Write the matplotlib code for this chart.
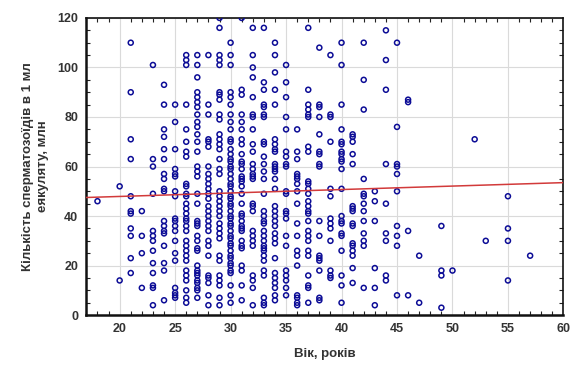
"""Scatter of sperm count vs age with a linear fit line."""

import numpy as np
import matplotlib
matplotlib.use("Agg")
import matplotlib.pyplot as plt
from matplotlib.ticker import MultipleLocator

plt.rcParams['font.family'] = ['Liberation Sans', 'DejaVu Sans']

# values, one list of counts per age
counts_by_age = {
    18: [46],
    20: [52, 14],
    21: [110, 90, 71, 63, 48, 42, 41, 35, 32, 23, 17],
    22: [42, 32, 25, 11],
    23: [101, 63, 60, 49, 34, 32, 30, 26, 21, 17, 12, 11, 4],
    24: [93, 85, 75, 72, 67, 63, 57, 55, 51, 50, 38, 36, 34, 33, 28, 21, 18, 6],
    25: [85, 78, 67, 59, 57, 56, 50, 48, 39, 38, 36, 34, 30, 25, 22, 11, 9, 8, 7],
    26: [105, 103, 101, 85, 75, 70, 66, 64, 53, 52, 49, 48, 45, 43, 41, 39, 38,
         36, 34, 30, 28, 26, 24, 22, 18, 16, 14, 10, 7, 5],
    27: [105, 101, 96, 90, 88, 86, 84, 81, 78, 76, 73, 70, 66, 60, 58, 56, 49,
         45, 38, 37, 36, 32, 30, 27, 26, 20, 18, 17, 16, 14, 13, 11, 10, 7],
    28: [105, 85, 81, 71, 70, 68, 60, 57, 55, 53, 51, 49, 47, 44, 42, 40, 38,
         36, 34, 30, 28, 24, 16, 15, 13, 8, 4],
    29: [120, 116, 105, 103, 101, 90, 89, 87, 81, 79, 73, 71, 69, 67, 63, 59,
         57, 50, 48, 46, 44, 42, 40, 37, 35, 33, 31, 24, 22, 16, 14, 12, 7, 4],
    30: [110, 105, 101, 90, 88, 85, 81, 78, 75, 71, 70, 67, 65, 63, 62, 60, 59,
         57, 55, 53, 52, 50, 48, 47, 45, 44, 42, 40, 39, 37, 36, 34, 32, 31, 29,
         28, 26, 24, 23, 21, 20, 18, 17, 12, 8, 5],
    31: [120, 91, 89, 81, 78, 75, 71, 69, 65, 62, 59, 55, 61, 56, 54, 52, 49,
         45, 41, 40, 38, 36, 35, 34, 30, 28, 27, 20, 18, 12, 6],
    32: [116, 105, 100, 96, 88, 81, 80, 75, 69, 66, 61, 59, 57, 55, 56, 45, 44,
         42, 34, 32, 30, 28, 16, 14, 11, 4],
    33: [116, 94, 91, 85, 84, 81, 80, 70, 69, 64, 61, 58, 55, 49, 42, 40, 38,
         37, 34, 32, 30, 28, 27, 26, 24, 22, 18, 16, 7, 5, 4],
    34: [110, 105, 98, 91, 85, 71, 69, 67, 66, 61, 59, 58, 60, 55, 51, 44, 42,
         40, 38, 36, 33, 31, 29, 23, 17, 15, 13, 11, 8, 6],
    35: [101, 94, 88, 80, 75, 66, 64, 60, 61, 50, 49, 42, 41, 39, 32, 28, 18,
         16, 14, 11, 8],
    36: [75, 66, 63, 56, 55, 57, 53, 50, 45, 37, 32, 26, 24, 20, 8, 7, 5, 4],
    37: [116, 91, 85, 83, 81, 80, 68, 66, 54, 53, 51, 49, 46, 44, 42, 41, 38,
         34, 32, 30, 26, 24, 16, 12, 11, 5],
    38: [108, 85, 84, 80, 73, 66, 65, 61, 60, 38, 32, 24, 23, 22, 18, 7, 6],
    39: [105, 81, 80, 70, 51, 48, 39, 37, 35, 30, 18, 16, 15],
    40: [110, 101, 85, 75, 70, 69, 66, 65, 63, 62, 59, 51, 40, 38, 37, 33, 32,
         26, 16, 12, 5],
    41: [73, 72, 70, 65, 61, 44, 43, 42, 37, 36, 29, 28, 26, 24, 19, 13],
    42: [110, 95, 83, 55, 49, 48, 45, 42, 38, 33, 30, 28, 11],
    43: [50, 46, 38, 19, 11, 4],
    44: [115, 103, 91, 61, 45, 33, 30, 16, 14],
    45: [110, 76, 61, 60, 57, 50, 36, 32, 28, 8],
    46: [87, 86, 34, 8],
    47: [24, 5],
    49: [36, 18, 16, 3],
    50: [18],
    52: [71],
    53: [30],
    55: [48, 35, 30, 14],
    57: [24],
}

# fitted line as drawn in the picture
fit_x = [17, 60]
fit_y = [47.5, 53.5]

ages = []
counts = []
for age, vals in counts_by_age.items():
    ages += [age] * len(vals)
    counts += vals
ages = np.array(ages, dtype=float)
counts = np.array(counts, dtype=float)

fig = plt.figure(figsize=(5.72, 3.66), dpi=100)
ax = fig.add_axes([0.151, 0.139, 0.834, 0.812])

ax.grid(True, color="#dadada", linewidth=0.8, zorder=0)
ax.scatter(ages, counts, s=13, marker="o", facecolors="none",
           edgecolors="#0c0c96", linewidths=1.1, zorder=3, clip_on=True)
ax.plot(fit_x, fit_y, color="#d23a3a", linewidth=1.1, zorder=4)

ax.set_xlim(17, 60)
ax.set_ylim(0, 120)
ax.xaxis.set_major_locator(MultipleLocator(5))
ax.yaxis.set_major_locator(MultipleLocator(20))
ax.xaxis.set_minor_locator(MultipleLocator(1))
ax.yaxis.set_minor_locator(MultipleLocator(5))
ax.set_xticks([20, 25, 30, 35, 40, 45, 50, 55, 60])

ax.tick_params(which="both", direction="in", top=True, right=True,
               color="#222222")
ax.tick_params(which="major", length=0, pad=6, labelsize=9,
               labelcolor="#333333")
ax.tick_params(which="minor", length=3, width=0.8)
for lab in ax.get_xticklabels() + ax.get_yticklabels():
    lab.set_fontweight("bold")

for side in ["left", "bottom"]:
    ax.spines[side].set_linewidth(1.8)
for side in ["top", "right"]:
    ax.spines[side].set_linewidth(1.2)
for sp in ax.spines.values():
    sp.set_color("#111111")

ax.set_xlabel("Вік, років", fontsize=9.5, fontweight="bold",
              color="#333333", labelpad=9)
ax.set_ylabel("Кількість сперматозоїдів в 1 мл\nеякуляту, млн",
              fontsize=9.5, fontweight="bold", color="#333333",
              labelpad=6, linespacing=1.3)

plt.savefig("out.png", dpi=100)
